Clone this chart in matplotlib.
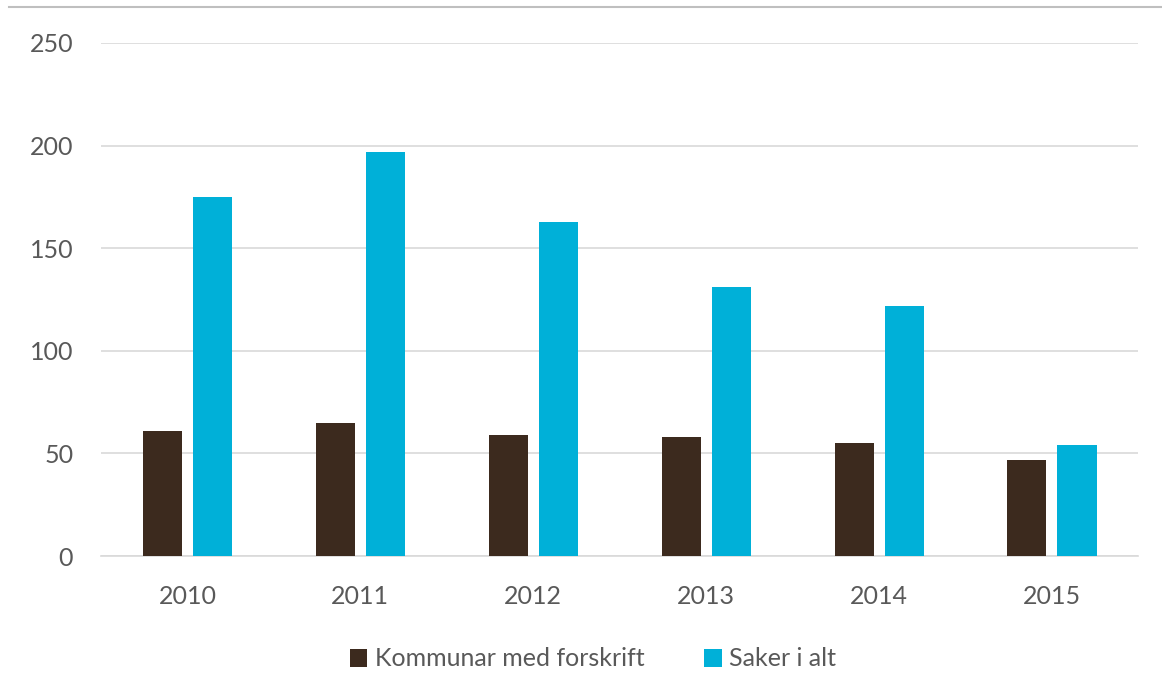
import matplotlib.pyplot as plt
import numpy as np
from matplotlib.lines import Line2D

years = ["2010", "2011", "2012", "2013", "2014", "2015"]
kommunar = [61, 65, 59, 58, 55, 47]
saker = [175, 197, 163, 131, 122, 54]

brown = "#3C2A1E"
blue = "#00B0D8"
txt = "#595959"

plt.rcParams['font.family'] = ['Lato', 'DejaVu Sans']

fig = plt.figure(figsize=(11.62, 6.97), dpi=100)
ax = fig.add_axes([101/1162, 1 - 556/697, (1138-101)/1162, (556-43)/697])

x = np.arange(len(years))
w = 0.226
ax.bar(x - 0.143, kommunar, w, color=brown, label="Kommunar med forskrift", zorder=3)
ax.bar(x + 0.147, saker, w, color=blue, label="Saker i alt", zorder=3)

ax.set_xlim(-0.5, 5.5)
ax.set_ylim(0, 250)
ax.set_yticks(range(0, 251, 50))
ax.set_xticks(x)
ax.set_xticklabels(years)
ax.yaxis.grid(True, color="#D9D9D9", linewidth=1.2)
ax.set_axisbelow(True)
for s in ["top", "right", "left"]:
    ax.spines[s].set_visible(False)
ax.spines["bottom"].set_color("#D9D9D9")
ax.spines["bottom"].set_linewidth(1.2)
ax.tick_params(axis="both", length=0, labelsize=18, labelcolor=txt)
ax.tick_params(axis="y", pad=20)
ax.tick_params(axis="x", pad=21)

leg = fig.legend(loc="center", bbox_to_anchor=(593/1162, 1 - 659/697), ncol=2,
                 frameon=False, fontsize=18, handlelength=0.7, handleheight=0.7,
                 handletextpad=0.3, columnspacing=2.4)
for t in leg.get_texts():
    t.set_color(txt)

fig.add_artist(Line2D([9/1162, 1], [1 - 7/697, 1 - 7/697], color="#BFBFBF", linewidth=1.5,
                      transform=fig.transFigure))

fig.savefig("out.png", dpi=100)
